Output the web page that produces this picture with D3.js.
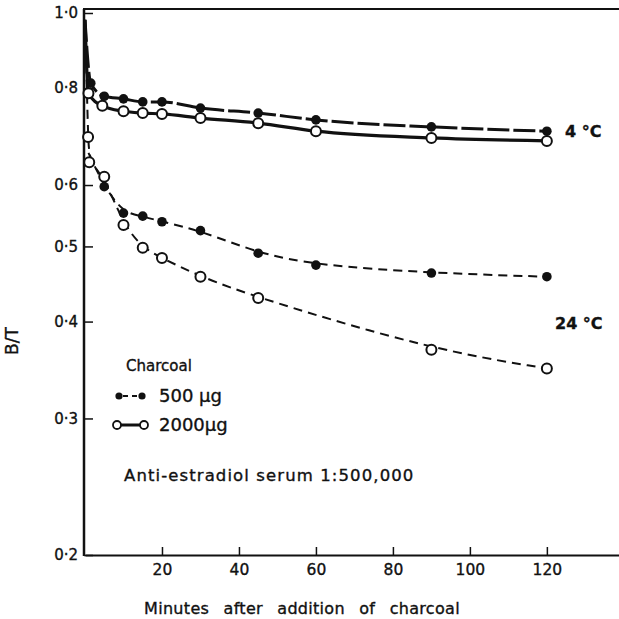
<!DOCTYPE html>
<html>
<head>
<meta charset="utf-8">
<script src="https://cdn.jsdelivr.net/npm/d3@7/dist/d3.min.js"></script>
<style>
  html, body { margin: 0; padding: 0; background: #fff; }
  svg { display: block; }
  text { font-family: "DejaVu Sans", "Liberation Sans", sans-serif; fill: #111; stroke: #111; stroke-width: 0.35; }
</style>
</head>
<body>
<svg id="chart" width="619" height="619"></svg>
<script>
// ---- data ----
const xTicks = [20, 40, 60, 80, 100, 120];
const yTicks = [0.2, 0.3, 0.4, 0.5, 0.6, 0.8, 1.0];
const yTickLabels = ["0·2", "0·3", "0·4", "0·5", "0·6", "0·8", "1·0"];
const curveStart = [0, 0.98];

// 4 °C
const t4_500 = [1.5, 5, 10, 15, 20, 30, 45, 60, 90, 120];
const v4_500 = [0.812, 0.781, 0.775, 0.768, 0.768, 0.754, 0.743, 0.728, 0.713, 0.704];
const t4_2000 = [0.9, 4.5, 10, 15, 20, 30, 45, 60, 90, 120];
const v4_2000 = [0.788, 0.759, 0.747, 0.743, 0.741, 0.732, 0.721, 0.704, 0.690, 0.684];

// 24 °C
const t24_500 = [5, 10, 15, 20, 30, 45, 60, 90, 120];
const v24_500 = [0.597, 0.552, 0.547, 0.538, 0.524, 0.490, 0.473, 0.462, 0.457];
const t24_2000 = [0.8, 1.1, 5, 10, 15, 20, 30, 45, 90, 120];
const v24_2000 = [0.692, 0.642, 0.615, 0.533, 0.498, 0.483, 0.457, 0.429, 0.368, 0.348];

// ---- drawing ----
const svg = d3.select("#chart");
const x = d3.scaleLinear().domain([0, 139]).range([85, 620]);
const y = d3.scaleLog().domain([0.2, 1.0]).range([555, 13]);

const zip = (ts, vs) => ts.map((t, i) => [t, vs[i]]);
const d4_500 = zip(t4_500, v4_500);
const d4_2000 = zip(t4_2000, v4_2000);
const d24_500 = zip(t24_500, v24_500);
const d24_2000 = zip(t24_2000, v24_2000);

// axes
const xAxis = d3.axisBottom(x).tickValues(xTicks).tickSize(-8).tickSizeOuter(0).tickPadding(9)
  .tickFormat(d => d);
const gx = svg.append("g").attr("transform", "translate(0,555)").call(xAxis);
gx.select(".domain").attr("stroke", "#111").attr("stroke-width", 2);
gx.selectAll(".tick line").attr("stroke", "#111").attr("stroke-width", 1.5);
gx.selectAll(".tick text").attr("font-size", 15.5).style("font-family", "DejaVu Sans, sans-serif").attr("fill", "#111");

const yAxis = d3.axisLeft(y).tickValues(yTicks).tickSize(-9).tickSizeOuter(0).tickPadding(6)
  .tickFormat((d, i) => yTickLabels[i]);
const gy = svg.append("g").attr("transform", "translate(84,0)").call(yAxis);
gy.select(".domain").remove();
gy.selectAll(".tick line").attr("stroke", "#111").attr("stroke-width", 1.5);
gy.selectAll(".tick text").attr("font-size", 15).style("font-family", "DejaVu Sans, sans-serif").attr("fill", "#111");

// frame lines
svg.append("line").attr("x1", 84).attr("x2", 84).attr("y1", 9).attr("y2", 556)
  .attr("stroke", "#111").attr("stroke-width", 2.5);
svg.append("line").attr("x1", 83).attr("x2", 619).attr("y1", 9).attr("y2", 9)
  .attr("stroke", "#111").attr("stroke-width", 2);

// lines
const lineMono = d3.line().x(d => x(d[0])).y(d => y(d[1])).curve(d3.curveMonotoneX);
const lineBasis = d3.line().x(d => x(d[0])).y(d => y(d[1])).curve(d3.curveBasis);

svg.append("path").datum([curveStart, ...d4_500]).attr("d", lineMono)
  .attr("fill", "none").attr("stroke", "#111").attr("stroke-width", 3)
  .attr("stroke-dasharray", "22,4");
svg.append("path").datum([curveStart, ...d4_2000]).attr("d", lineMono)
  .attr("fill", "none").attr("stroke", "#111").attr("stroke-width", 3.2);

svg.append("path").datum([[0.9, 0.66], ...d24_500]).attr("d", lineBasis)
  .attr("fill", "none").attr("stroke", "#111").attr("stroke-width", 2)
  .attr("stroke-dasharray", "9,6");
svg.append("path").datum([curveStart, ...d24_2000]).attr("d", lineBasis)
  .attr("fill", "none").attr("stroke", "#111").attr("stroke-width", 2)
  .attr("stroke-dasharray", "9,6");

// markers
function filled(data) {
  svg.append("g").selectAll("circle").data(data).join("circle")
    .attr("cx", d => x(d[0])).attr("cy", d => y(d[1])).attr("r", 4.8)
    .attr("fill", "#111");
}
function open(data) {
  svg.append("g").selectAll("circle").data(data).join("circle")
    .attr("cx", d => x(d[0])).attr("cy", d => y(d[1])).attr("r", 5)
    .attr("fill", "#fff").attr("stroke", "#111").attr("stroke-width", 2);
}
open(d4_2000);
filled(d4_500);
open(d24_2000);
filled(d24_500);

// annotations
svg.append("text").attr("x", 565).attr("y", 137).attr("font-size", 16).attr("font-weight", "bold").text("4 °C");
svg.append("text").attr("x", 555).attr("y", 329).attr("font-size", 16).attr("font-weight", "bold").text("24 °C");

// legend
svg.append("text").attr("x", 126).attr("y", 371).attr("font-size", 15).text("Charcoal");
svg.append("line").attr("x1", 120).attr("x2", 142).attr("y1", 396).attr("y2", 396)
  .attr("stroke", "#111").attr("stroke-width", 2).attr("stroke-dasharray", "5,4").attr("stroke-dashoffset", -3);
svg.append("circle").attr("cx", 119).attr("cy", 396).attr("r", 3.6).attr("fill", "#111");
svg.append("circle").attr("cx", 142).attr("cy", 396).attr("r", 3.6).attr("fill", "#111");
svg.append("text").attr("x", 159).attr("y", 402).attr("font-size", 18).text("500 µg");

svg.append("line").attr("x1", 118).attr("x2", 143).attr("y1", 425).attr("y2", 425)
  .attr("stroke", "#111").attr("stroke-width", 3);
svg.append("circle").attr("cx", 117).attr("cy", 425).attr("r", 4).attr("fill", "#fff").attr("stroke", "#111").attr("stroke-width", 1.8);
svg.append("circle").attr("cx", 144).attr("cy", 425).attr("r", 4).attr("fill", "#fff").attr("stroke", "#111").attr("stroke-width", 1.8);
svg.append("text").attr("x", 159).attr("y", 431).attr("font-size", 18).text("2000µg");

svg.append("text").attr("x", 124).attr("y", 481).attr("font-size", 16.5).attr("letter-spacing", 1.1)
  .text("Anti-estradiol serum 1:500,000");

// axis titles
svg.append("text").attr("x", 302).attr("y", 614).attr("text-anchor", "middle").attr("font-size", 16)
  .attr("word-spacing", 9).attr("letter-spacing", 0.3).text("Minutes after addition of charcoal");
svg.append("text").attr("transform", "translate(18,341) rotate(-90)").attr("text-anchor", "middle")
  .attr("font-size", 17).text("B/T");
</script>
</body>
</html>
